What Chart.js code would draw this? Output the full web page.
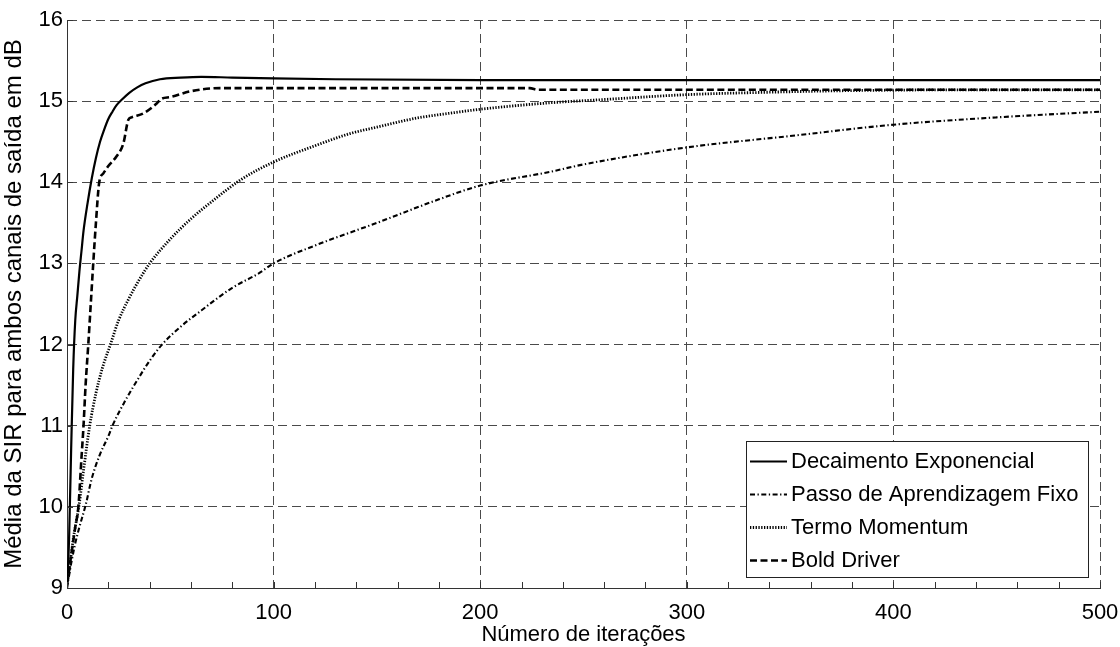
<!DOCTYPE html>
<html lang="pt">
<head>
<meta charset="utf-8">
<title>Média da SIR por número de iterações</title>
<script src="https://cdn.jsdelivr.net/npm/chart.js@4.4.1/dist/chart.umd.min.js"></script>
<style>
  html, body { margin: 0; padding: 0; background: #fff; }
  canvas { display: block; }
</style>
</head>
<body>
<canvas id="grafico" width="1120" height="647"></canvas>
<script>
// Decaimento Exponencial
const iterDecaimento = [0, 1, 2, 3, 4, 5, 6, 7, 8, 10, 12, 14, 16, 18, 20, 22, 24, 27, 30, 34, 38, 45, 55, 65, 80, 100, 130, 200, 300, 400, 500];
const sirDecaimento  = [9.0, 9.6, 10.7, 11.7, 12.3, 12.6, 12.9, 13.15, 13.4, 13.75, 14.05, 14.3, 14.5, 14.65, 14.78, 14.87, 14.95, 15.03, 15.1, 15.17, 15.22, 15.27, 15.29, 15.3, 15.29, 15.28, 15.27, 15.26, 15.26, 15.26, 15.26];

// Passo de Aprendizagem Fixo
const iterFixo = [0, 2, 4, 6, 9, 12, 16, 20, 22, 28, 34, 40, 46, 55, 65, 80, 93, 100, 120, 150, 180, 200, 234, 250, 300, 350, 400, 450, 500];
const sirFixo  = [9.0, 9.3, 9.55, 9.75, 10.02, 10.35, 10.65, 10.87, 11.0, 11.3, 11.56, 11.8, 12.0, 12.22, 12.42, 12.7, 12.88, 13.0, 13.22, 13.5, 13.79, 13.96, 14.13, 14.22, 14.43, 14.57, 14.71, 14.8, 14.87];

// Termo Momentum
const iterMomentum = [0, 1, 2, 3, 4, 6, 8, 11, 14, 17, 21, 25, 30, 35, 40, 50, 60, 70, 84, 100, 120, 137, 150, 169, 185, 200, 234, 260, 300, 340, 380, 440, 500];
const sirMomentum  = [9.05, 9.2, 9.4, 9.6, 9.75, 10.05, 10.45, 11.0, 11.4, 11.7, 12.0, 12.3, 12.57, 12.8, 13.0, 13.3, 13.55, 13.76, 14.03, 14.25, 14.45, 14.6, 14.68, 14.79, 14.85, 14.9, 14.98, 15.02, 15.08, 15.11, 15.13, 15.14, 15.14];

// Bold Driver
const iterBold = [0, 2, 4, 5.5, 7, 8, 9, 10.3, 11.5, 12.7, 14, 15.6, 17.6, 20, 24, 27.3, 29.7, 31.3, 37, 43.4, 45.8, 50, 59.5, 74, 100, 150, 224, 228, 300, 400, 500];
const sirBold  = [9.05, 9.4, 9.75, 10.0, 10.6, 11.0, 11.5, 12.0, 12.5, 13.0, 13.5, 14.0, 14.11, 14.2, 14.32, 14.48, 14.77, 14.8, 14.85, 14.97, 15.03, 15.05, 15.12, 15.16, 15.16, 15.16, 15.16, 15.14, 15.14, 15.14, 15.14];

const seriesLabels = ['Decaimento Exponencial', 'Passo de Aprendizagem Fixo', 'Termo Momentum', 'Bold Driver'];
const xTicks = [0, 100, 200, 300, 400, 500];
const yTicks = [9, 10, 11, 12, 13, 14, 15, 16];

const FONT = 'Liberation Sans';

function toPoints(xs, ys) {
  return xs.map((x, i) => ({ x: x, y: ys[i] }));
}

// Inward tick marks (minor every 20 on x) and the legend box inside the plot
const marksAndLegend = {
  id: 'marksAndLegend',
  afterDatasetsDraw(chart) {
    const { ctx, chartArea: a, scales } = chart;
    ctx.save();
    ctx.strokeStyle = '#333';
    ctx.lineWidth = 1;
    ctx.setLineDash([]);
    ctx.beginPath();
    for (let v = 0; v <= 500; v += 20) {
      const px = Math.round(scales.x.getPixelForValue(v)) + 0.5;
      ctx.moveTo(px, a.bottom);
      ctx.lineTo(px, a.bottom - 6);
    }
    yTicks.forEach(v => {
      const py = Math.round(scales.y.getPixelForValue(v)) + 0.5;
      ctx.moveTo(a.left, py);
      ctx.lineTo(a.left + 6, py);
    });
    ctx.stroke();

    // legend
    const box = { l: 746.5, t: 441.5, r: 1088.5, b: 577.5 };
    ctx.fillStyle = '#fff';
    ctx.fillRect(box.l, box.t, box.r - box.l, box.b - box.t);
    ctx.strokeStyle = '#222';
    ctx.lineWidth = 1;
    ctx.strokeRect(box.l, box.t, box.r - box.l, box.b - box.t);
    const rowY = [461, 494, 527, 560];
    ctx.font = '22px "' + FONT + '"';
    ctx.textBaseline = 'middle';
    ctx.textAlign = 'left';
    chart.data.datasets.forEach((ds, i) => {
      const y = rowY[i] + 0.5;
      ctx.beginPath();
      ctx.strokeStyle = ds.borderColor;
      ctx.lineWidth = ds.borderWidth;
      ctx.setLineDash(ds.borderDash || []);
      ctx.moveTo(750, y);
      ctx.lineTo(787, y);
      ctx.stroke();
      ctx.setLineDash([]);
      ctx.fillStyle = '#000';
      ctx.fillText(ds.label, 791, rowY[i] + 1);
    });
    ctx.restore();
  }
};

const lineCommon = {
  borderColor: '#000',
  backgroundColor: '#000',
  pointRadius: 0,
  fill: false,
  cubicInterpolationMode: 'monotone',
  borderCapStyle: 'butt',
  borderJoinStyle: 'round'
};

new Chart(document.getElementById('grafico'), {
  type: 'line',
  data: {
    datasets: [
      Object.assign({}, lineCommon, { label: seriesLabels[0], data: toPoints(iterDecaimento, sirDecaimento), borderWidth: 2.2, borderDash: [] }),
      Object.assign({}, lineCommon, { label: seriesLabels[1], data: toPoints(iterFixo, sirFixo), borderWidth: 2.1, borderDash: [5, 2.5, 1.3, 2.5] }),
      Object.assign({}, lineCommon, { label: seriesLabels[2], data: toPoints(iterMomentum, sirMomentum), borderWidth: 2.8, borderDash: [1.3, 1.5] }),
      Object.assign({}, lineCommon, { label: seriesLabels[3], data: toPoints(iterBold, sirBold), borderWidth: 2.6, borderDash: [7, 3.5] })
    ]
  },
  options: {
    responsive: false,
    animation: false,
    layout: { padding: { left: 0, right: 20, top: 20, bottom: 0 } },
    plugins: { legend: { display: false }, tooltip: { enabled: false } },
    scales: {
      x: {
        type: 'linear',
        min: 0,
        max: 500,
        afterFit(scale) { scale.height = 59; scale.paddingLeft = 0; scale.paddingRight = 0; },
        afterBuildTicks(scale) { scale.ticks = xTicks.map(v => ({ value: v })); },
        ticks: { color: '#000', font: { family: FONT, size: 22 }, padding: 12, maxRotation: 0 },
        grid: { color: '#4a4a4a', lineWidth: 1, drawTicks: false },
        border: { display: true, color: '#333', width: 1, dash: [9, 5] },
        title: {
          display: true,
          text: 'Número de iterações',
          color: '#000',
          font: { family: FONT, size: 22, lineHeight: 1.1 },
          padding: { top: 0, bottom: 0 }
        }
      },
      y: {
        type: 'linear',
        min: 9,
        max: 16,
        afterFit(scale) { scale.width = 67; scale.paddingTop = 0; scale.paddingBottom = 0; },
        afterBuildTicks(scale) { scale.ticks = yTicks.map(v => ({ value: v })); },
        ticks: { color: '#000', font: { family: FONT, size: 22 }, padding: 4 },
        grid: { color: '#4a4a4a', lineWidth: 1, drawTicks: false },
        border: { display: true, color: '#333', width: 1, dash: [9, 5] },
        title: {
          display: true,
          text: 'Média da SIR para ambos canais de saída em dB',
          color: '#000',
          font: { family: FONT, size: 24 },
          padding: { top: 0, bottom: 0 }
        }
      }
    }
  },
  plugins: [marksAndLegend]
});
</script>
</body>
</html>
